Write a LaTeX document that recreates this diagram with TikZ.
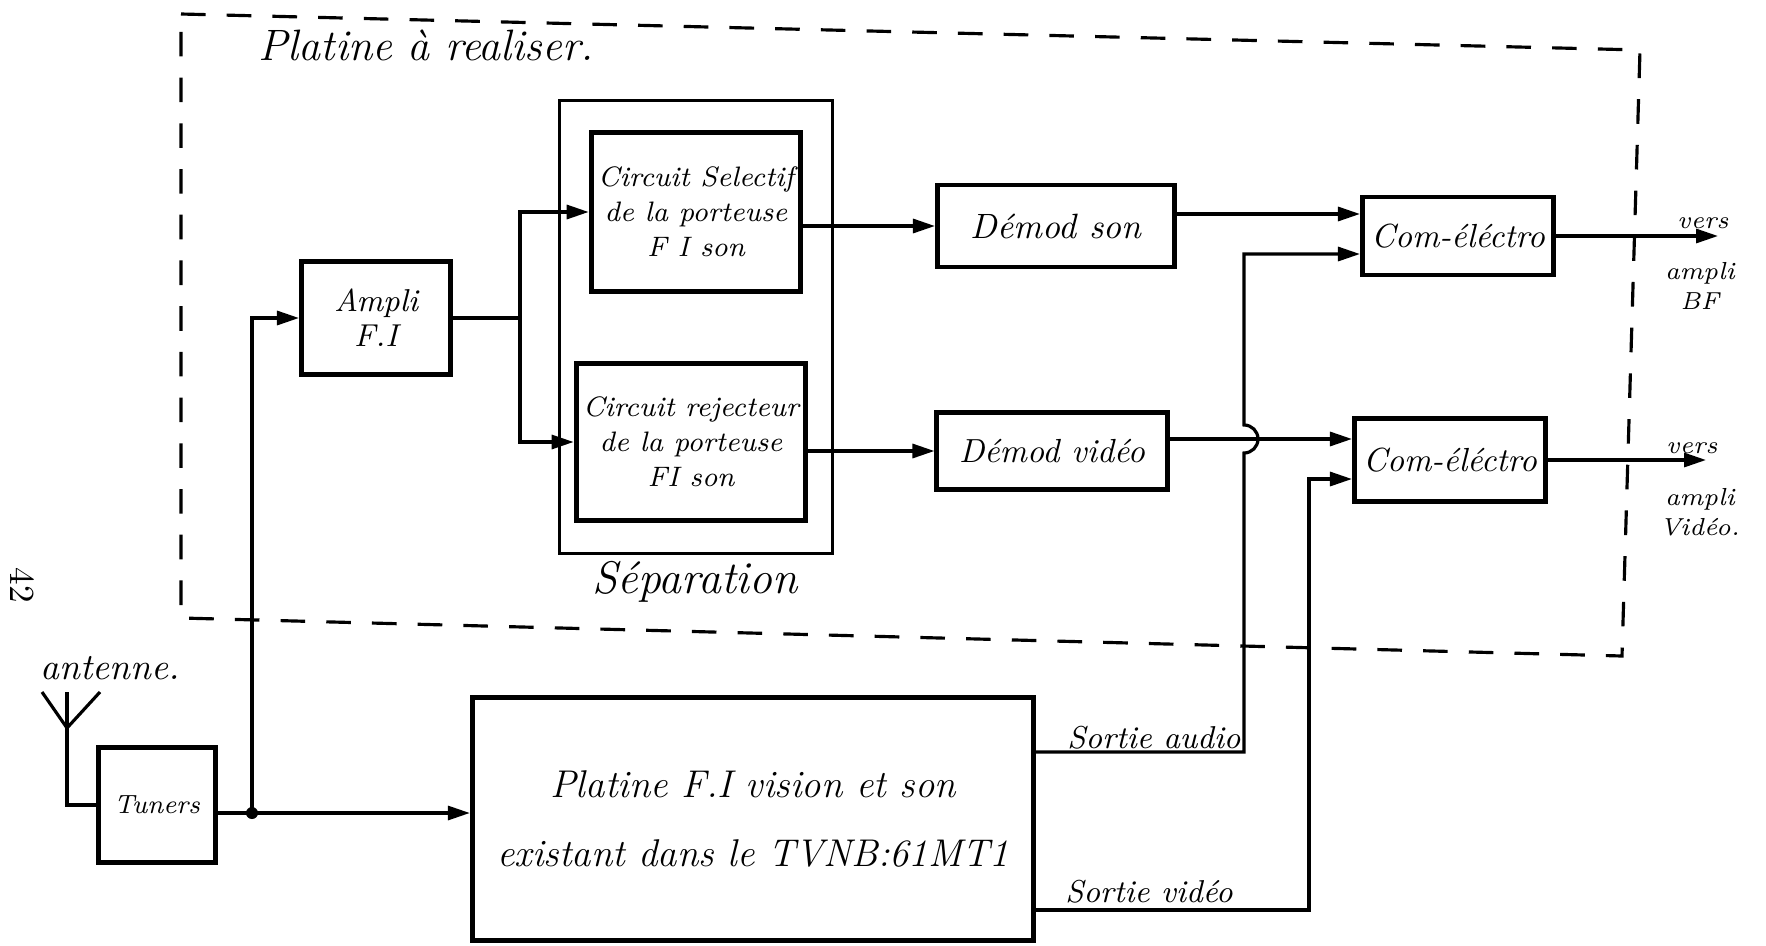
\documentclass[tikz,border=0pt]{standalone}
\usepackage{tikz}
\usetikzlibrary{arrows.meta, positioning, calc}

\begin{document}
\begin{tikzpicture}[x=0.01cm, y=-0.01cm,
    blk/.style={draw, line width=1.4pt, inner sep=2pt, align=center},
    wire/.style={line width=0.9pt},
    arr/.style={wire, -{Triangle[length=2.2mm, width=1.4mm]}},
    lbl/.style={inner sep=0pt, align=center}]
  \useasboundingbox (0,0) rectangle (1766,945);

  % Platine a realiser
  \draw[line width=0.9pt, dash pattern=on 7pt off 6pt] (181,14) -- (1640,50) -- (1622,656) -- (181,618) -- cycle;
  \node[lbl, anchor=west, font=\itshape\fontsize{12.5}{15}\selectfont] (titre) at (258,45) {Platine à realiser.};
  \node[lbl, rotate=-90, font=\fontsize{10}{12}\selectfont] (page) at (22,585) {42};

  % Blocs
  \node[blk, minimum width=1.49cm, minimum height=1.13cm, font=\itshape\fontsize{9}{10}\selectfont] (ampli) at (376,318) {Ampli\\F.I};
  \node[draw, line width=0.9pt, minimum width=2.73cm, minimum height=4.53cm] (sep) at (696,327) {};
  \node[lbl, font=\itshape\fontsize{13}{15}\selectfont] (seplbl) at (695,582) {Séparation};
  \node[blk, minimum width=1.92cm, minimum height=1.58cm, font=\itshape\fontsize{8}{10}\selectfont] (sel) at (696,212) {Circuit Selectif\\de la porteuse\\F I son};
  \node[blk, minimum width=1.88cm, minimum height=1.57cm, font=\itshape\fontsize{8}{10}\selectfont] (rej) at (691,442) {Circuit rejecteur\\de la porteuse\\FI son};
  \node[blk, minimum width=2.37cm, minimum height=0.82cm, font=\itshape\fontsize{10}{12}\selectfont] (dson) at (1056,226) {Démod son};
  \node[blk, minimum width=2.30cm, minimum height=0.77cm, font=\itshape\fontsize{9.5}{12}\selectfont] (dvid) at (1052,451) {Démod vidéo};
  \node[blk, minimum width=1.91cm, minimum height=0.78cm, font=\itshape\fontsize{9.5}{12}\selectfont] (com1) at (1458,236) {Com-éléctro};
  \node[blk, minimum width=1.91cm, minimum height=0.83cm, font=\itshape\fontsize{9.5}{12}\selectfont] (com2) at (1450,460) {Com-éléctro};
  \node[blk, minimum width=1.17cm, minimum height=1.15cm, font=\itshape\fontsize{7.5}{9}\selectfont] (tuner) at (157,805) {Tuners};
  \node[blk, minimum width=5.61cm, minimum height=2.42cm, font=\itshape\fontsize{11}{19.5}\selectfont] (platine) at (753,819) {Platine F.I vision et son\\existant dans le TVNB:61MT1};

  % Antenne
  \coordinate (ant) at (67,728);
  \node[lbl, anchor=west, font=\itshape\fontsize{10.5}{12}\selectfont] (antlbl) at (40,668) {antenne.};
  \draw[wire] (42,692) -- (ant) -- (100,692);
  \draw[wire] (67,692) -- (ant) |- (tuner.west);

  % Liaisons
  \coordinate (jn) at (252,813);
  \coordinate (br) at (520,318);
  \coordinate (c1a) at ([yshift=0.22cm]com1.west);
  \coordinate (c1b) at ([yshift=-0.18cm]com1.west);
  \coordinate (c2a) at ([yshift=0.21cm]com2.west);
  \coordinate (c2b) at ([yshift=-0.19cm]com2.west);
  \coordinate (au) at (1244,752);
  \coordinate (vo) at (1309,910);
  \coordinate (bf) at (1718,236);
  \coordinate (vi) at (1706,460);

  \draw[wire] (tuner.east |- jn) -- (jn);
  \fill (jn) circle (0.06cm);
  \draw[arr] (jn) -- (jn -| platine.west);
  \draw[arr] (jn) |- (ampli.west);
  \draw[wire] (ampli.east) -- (br);
  \draw[arr] (br) |- (sel.west);
  \draw[arr] (br) |- (rej.west);
  \draw[arr] (sel.east |- dson.west) -- (dson.west);
  \draw[arr] (rej.east |- dvid.west) -- (dvid.west);
  \draw[arr] (dson.east |- c1a) -- (c1a);
  \draw[arr] (dvid.east |- c2a) -- (c2a);
  \draw[arr] (platine.east |- au) -- (au) -- (1244,453)
    arc[start angle=-90, end angle=90, radius=0.14cm] -- (au |- c1b) -- (c1b);
  \draw[arr] (platine.east |- vo) -- (vo) |- (c2b);
  \draw[arr] (com1.east) -- (bf);
  \draw[arr] (com2.east) -- (vi);

  % Sorties
  \node[lbl, font=\itshape\fontsize{9}{11}\selectfont] (sa) at (1154,738) {Sortie audio};
  \node[lbl, font=\itshape\fontsize{9}{11}\selectfont] (sv) at (1149,892) {Sortie vidéo};
  \node[lbl, font=\itshape\fontsize{7}{8.5}\selectfont] (bf1) at (1703,223) {vers};
  \node[lbl, font=\itshape\fontsize{7}{8.5}\selectfont, anchor=north] (bf2) at (1700,262) {ampli\\BF};
  \node[lbl, font=\itshape\fontsize{7}{8.5}\selectfont] (vi1) at (1692,448) {vers};
  \node[lbl, font=\itshape\fontsize{7}{8.5}\selectfont, anchor=north] (vi2) at (1700,488) {ampli\\Vidéo.};
\end{tikzpicture}
\end{document}
